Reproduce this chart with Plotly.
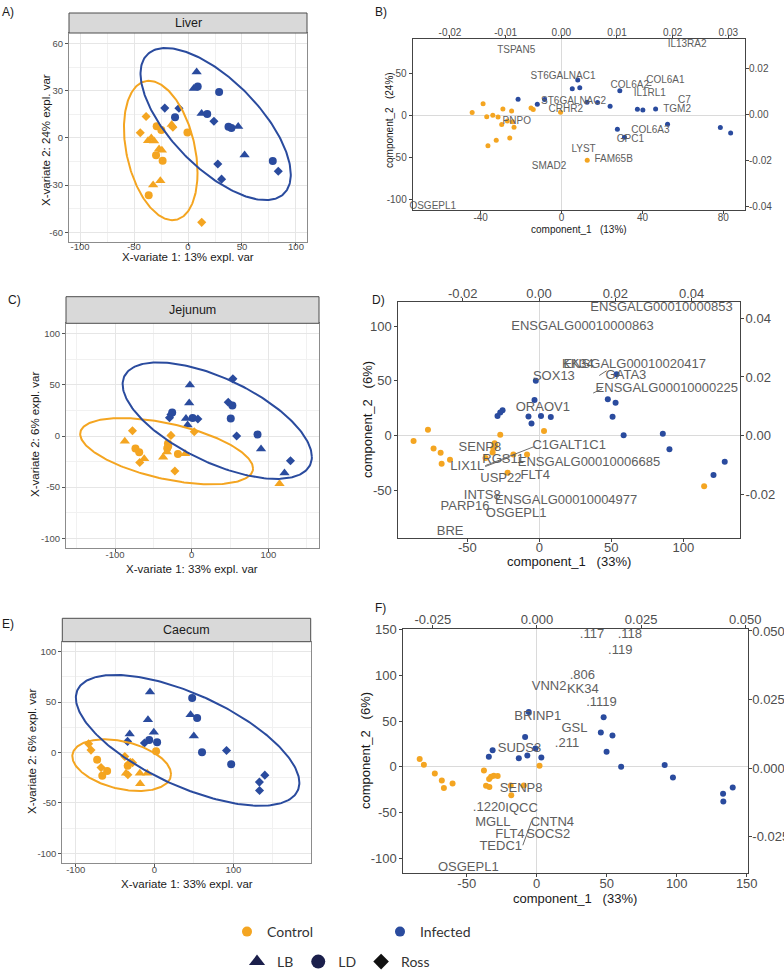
import numpy as np
import plotly.graph_objects as go

FIG_W, FIG_H = 784, 970
ORANGE = "#F4A521"
BLUE = "#2A4B9E"
FONT = "Liberation Sans, Arial, sans-serif"
LEG_FONT = "Lato, sans-serif"

# ------------------------------------------------------------------ data
# Liver sPLS-DA scores (panels A and B)
liver_ctrl_x = [-44.2, -38.8, -37.0, -34.0, -31.4, -29.0, -24.7, -29.6, -26.8, -24.2, -23.5, -15.1, -14.0, -0.5, -25.6, -32.3, -36.4, 12.7]
liver_ctrl_y = [3.3, 13.7, -1.8, 0.0, -2.0, 7.4, 5.0, -11.0, -7.0, -7.8, -14.5, 8.6, 6.8, 3.5, -27.3, -30.0, -36.5, -53.7]
liver_ctrl_breed = ["Ross", "Ross", "LB", "LB", "LB", "LD", "LD", "LD", "LB", "LB", "LD", "LB", "Ross", "LD", "LB", "LB", "LD", "Ross"]
liver_inf_x = [8.0, 5.3, 9.0, 28.8, -21.5, -8.4, -12.0, 12.6, 17.8, 24.0, 37.5, 40.2, 46.5, 52.4, 27.6, 31.1, 78.5, 83.6]
liver_inf_y = [42.0, 31.5, 32.8, 29.2, 19.0, 18.9, 13.2, 15.5, 15.2, 10.6, 7.1, 6.3, 7.3, -10.9, -16.6, -26.2, -14.6, -21.2]
liver_inf_breed = ["LB", "LB", "LD", "LD", "Ross", "Ross", "LD", "LB", "LD", "Ross", "LD", "LD", "LB", "LB", "Ross", "Ross", "LD", "Ross"]

# Jejunum scores (panels C and D)
jej_ctrl_x = [-87.3, -77.3, -73.4, -68.5, -67.8, -62.0, -31.0, -30.6, -31.9, -32.4, -37.3, -27.1, -18.0, -8.5, 3.3, -22.0, 114.5]
jej_ctrl_y = [-5.1, 5.2, -12.1, -15.8, -25.9, -22.2, -7.3, -9.8, -11.9, -15.6, -20.7, 0.6, -17.6, -17.4, 4.1, -34.2, -46.6]
jej_ctrl_breed = ["LB", "Ross", "LD", "LD", "Ross", "LB", "LD", "LD", "LD", "LB", "LB", "Ross", "LD", "LB", "Ross", "Ross", "LB"]
jej_inf_x = [53.7, -2.4, -3.3, 47.6, 53.0, -25.5, -27.1, -29.0, -7.5, 1.2, 8.0, -5.4, 50.9, 58.6, 85.8, 90.4, 128.8, 121.0]
jej_inf_y = [55.9, 49.9, 32.3, 33.0, 29.8, 23.0, 21.0, 17.8, 17.2, 17.7, 16.7, 10.8, 17.0, 0.0, 1.4, -12.6, -24.2, -36.2]
jej_inf_breed = ["Ross", "LB", "LB", "Ross", "LD", "LD", "Ross", "Ross", "LB", "LD", "Ross", "LB", "LD", "Ross", "LD", "LB", "Ross", "LB"]

# Caecum scores (panels E and F)
cae_ctrl_x = [-83.6, -80.6, -72.8, -67.8, -66.3, -60.1, -37.7, -34.0, -32.6, -30.7, -27.9, -36.2, -33.8, -18.6, -9.2, -18.2, 2.0]
cae_ctrl_y = [8.6, 2.4, -7.2, -15.0, -23.0, -18.3, -4.0, -13.2, -10.9, -9.8, -10.1, -20.7, -22.1, -20.5, -20.5, -31.0, 1.3]
cae_ctrl_breed = ["Ross", "Ross", "LD", "Ross", "LD", "LD", "Ross", "LD", "LB", "Ross", "Ross", "LB", "Ross", "LB", "LB", "LB", "LD"]
cae_inf_x = [-5.7, 47.8, 45.8, 54.1, -8.3, -0.9, -31.5, -34.2, -6.7, -12.8, 3.3, 49.9, 60.3, 91.4, 97.3, 140.0, 133.1, 133.3]
cae_inf_y = [60.0, 54.2, 37.6, 34.2, 32.6, 20.0, 18.3, 11.0, 12.5, 9.4, 10.3, 16.5, 0.2, 2.0, -11.7, -22.5, -29.4, -37.8]
cae_inf_breed = ["LB", "LD", "LB", "LD", "LB", "LB", "LB", "Ross", "LD", "Ross", "LD", "LB", "LD", "Ross", "LD", "Ross", "Ross", "Ross"]

# Variable loadings labels (top / right axes)
liver_genes = ["TSPAN5", "IL13RA2", "ST6GALNAC1", "COL6A1", "COL6A2", "IL1RL1", "C7", "TGM2", "ST6GALNAC2",
               "CRHR2", "PNPO", "COL6A3", "GPC1", "LYST", "FAM65B", "SMAD2", "OSGEPL1"]
liver_load_1 = [-0.0081, 0.0226, 0.0003, 0.0187, 0.0123, 0.0159, 0.0221, 0.0208, 0.0022,
                0.0008, -0.0080, 0.0160, 0.0124, 0.0040, 0.0094, -0.0022, -0.0231]
liver_load_2 = [0.0279, 0.0308, 0.0169, 0.0151, 0.0128, 0.0093, 0.0061, 0.0025, 0.0060,
                0.0022, -0.0028, -0.0068, -0.0105, -0.0151, -0.0196, -0.0225, -0.0400]
liver_seg_x = [0.0153, 0.0162]
liver_seg_y = [0.0128, 0.0128]

jej_genes = ["ENSGALG00010000853", "ENSGALG00010000863", "KK34", "ENSGALG00010020417", "GATA3",
             "ENSGALG00010000225", "SOX13", "ORAOV1", "C1GALT1C1", "SENP8", "RGS11", "LIX1L",
             "ENSGALG00010006685", "USP22", "FLT4", "INTS8", "ENSGALG00010004977", "PARP16", "OSGEPL1", "BRE"]
jej_load_1 = [0.0321, 0.0114, 0.0102, 0.0251, 0.0228, 0.0335, 0.0039, 0.0010, 0.0079, -0.0155, -0.0094,
              -0.0188, 0.0131, -0.0100, -0.0010, -0.0149, 0.0071, -0.0194, -0.0060, -0.0233]
jej_load_2 = [0.0435, 0.0372, 0.0241, 0.0241, 0.0203, 0.0160, 0.0199, 0.0094, -0.0035, -0.0043, -0.0083,
              -0.0106, -0.0094, -0.0146, -0.0137, -0.0206, -0.0223, -0.0245, -0.0266, -0.0330]
jej_seg_x = [0.0158, 0.0177, None, 0.0142, 0.0165, None, -0.0141, -0.0013, None, -0.0141, -0.0077]
jej_seg_y = [0.0205, 0.0221, None, 0.0145, 0.0159, None, -0.0103, -0.0038, None, -0.0106, -0.0074]

cae_genes = [".117", ".118", ".119", ".806", "VNN2", "KK34", ".1119", "BRINP1", "GSL", ".211", "SUDS3",
             "SENP8", ".1220", "IQCC", "MGLL", "CNTN4", "FLT4", "SOCS2", "TEDC1", "OSGEPL1"]
cae_load_1 = [0.0132, 0.0223, 0.0200, 0.0109, 0.0029, 0.0110, 0.0155, 0.0002, 0.0090, 0.0072, -0.0042,
              -0.0038, -0.0115, -0.0037, -0.0106, 0.0037, -0.0065, 0.0027, -0.0087, -0.0165]
cae_load_2 = [0.0485, 0.0485, 0.0429, 0.0337, 0.0295, 0.0284, 0.0240, 0.0186, 0.0143, 0.0090, 0.0069,
              -0.0074, -0.0144, -0.0148, -0.0200, -0.0199, -0.0243, -0.0243, -0.0286, -0.0363]
cae_seg_x = [-0.0034, -0.0013]
cae_seg_y = [-0.0281, -0.0193]

SYMBOL = {"LB": "triangle-up", "LD": "circle", "Ross": "diamond"}
SIZE = {"LB": 9, "LD": 8, "Ross": 7}

# ------------------------------------------------------------------ helpers
def fx(p):
    return p / FIG_W

def fy(p):
    return 1 - p / FIG_H

def ellipse(xs, ys, n=240):
    xs = np.asarray(xs, float)
    ys = np.asarray(ys, float)
    k = np.sqrt(-2 * np.log(0.05))
    L = np.linalg.cholesky(np.cov(xs, ys))
    t = np.linspace(0, 2 * np.pi, n)
    pts = k * (L @ np.vstack([np.cos(t), np.sin(t)]))
    return xs.mean() + pts[0], ys.mean() + pts[1]

def fmt(v, d=0):
    s = f"{v:.{d}f}"
    if s.startswith("-") and float(s) == 0:
        s = s[1:]
    return s

fig = go.Figure()

def score_panel(ax, ctrl, inf):
    xa, ya = ("x" + ax, "y" + ax) if ax else ("x", "y")
    for (xs, ys, br), col in ((ctrl, ORANGE), (inf, BLUE)):
        fig.add_trace(go.Scatter(x=xs, y=ys, mode="markers", xaxis=xa, yaxis=ya, showlegend=False,
                                 marker=dict(color=col, symbol=[SYMBOL[b] for b in br], opacity=1,
                                             size=[SIZE[b] for b in br], line=dict(width=0)),
                                 hoverinfo="skip"))
    for (xs, ys, br), col in ((ctrl, ORANGE), (inf, BLUE)):
        ex, ey = ellipse(xs, ys)
        fig.add_trace(go.Scatter(x=ex, y=ey, mode="lines", xaxis=xa, yaxis=ya, showlegend=False,
                                 line=dict(color=col, width=2), hoverinfo="skip"))

def loading_panel(ax, ax2, ctrl, inf, genes, l1, l2, sx, sy, dot, lab):
    for (xs, ys), col in ((ctrl, ORANGE), (inf, BLUE)):
        fig.add_trace(go.Scatter(x=xs, y=ys, mode="markers", xaxis="x" + ax, yaxis="y" + ax,
                                 showlegend=False, marker=dict(color=col, size=dot), hoverinfo="skip"))
    fig.add_trace(go.Scatter(x=sx, y=sy, mode="lines", xaxis="x" + ax2, yaxis="y" + ax2, showlegend=False,
                             line=dict(color="#6b6b6b", width=1), hoverinfo="skip"))
    fig.add_trace(go.Scatter(x=l1, y=l2, text=genes, mode="text", xaxis="x" + ax2, yaxis="y" + ax2,
                             showlegend=False, cliponaxis=False, hoverinfo="skip",
                             textfont=dict(family=FONT, size=lab, color="#5e5e5e")))

score_panel("", (liver_ctrl_x, liver_ctrl_y, liver_ctrl_breed), (liver_inf_x, liver_inf_y, liver_inf_breed))
loading_panel("2", "3", (liver_ctrl_x, liver_ctrl_y), (liver_inf_x, liver_inf_y),
              liver_genes, liver_load_1, liver_load_2, liver_seg_x, liver_seg_y, 5, 10)
score_panel("4", (jej_ctrl_x, jej_ctrl_y, jej_ctrl_breed), (jej_inf_x, jej_inf_y, jej_inf_breed))
loading_panel("5", "6", (jej_ctrl_x, jej_ctrl_y), (jej_inf_x, jej_inf_y),
              jej_genes, jej_load_1, jej_load_2, jej_seg_x, jej_seg_y, 6, 13)
score_panel("7", (cae_ctrl_x, cae_ctrl_y, cae_ctrl_breed), (cae_inf_x, cae_inf_y, cae_inf_breed))
loading_panel("8", "9", (cae_ctrl_x, cae_ctrl_y), (cae_inf_x, cae_inf_y),
              cae_genes, cae_load_1, cae_load_2, cae_seg_x, cae_seg_y, 6, 13)

# legend entries
for name, col, sym, size, leg in (("Control", ORANGE, "circle", 10, "legend"),
                                   ("Infected", BLUE, "circle", 10, "legend"),
                                   ("LB", "#1b1f4b", "triangle-up", 14, "legend2"),
                                   ("LD", "#1b1f4b", "circle", 14, "legend2"),
                                   ("Ross", "#111111", "diamond", 12, "legend2")):
    fig.add_trace(go.Scatter(x=[None], y=[None], mode="markers", name=name, legend=leg,
                             marker=dict(color=col, symbol=sym, size=size)))

# ------------------------------------------------------------------ axes
GRID = "#e6e6e6"
MINOR = "#f1f1f1"

def score_axes(dx, dy, xr, yr, xt, yt, xm, ym, xa, ya, sb):
    common = dict(showgrid=True, gridcolor=GRID, gridwidth=1, zeroline=False, showline=True, mirror=True,
                  linecolor="#8c8c8c", linewidth=1, ticks="outside", ticklen=3, tickcolor="#555555",
                  tickfont=dict(family=FONT, size=9.5, color="#4d4d4d"), fixedrange=True, automargin=False)
    xaxis = dict(common, domain=[fx(dx[0]), fx(dx[1])], range=xr, tickmode="array", tickvals=xt,
                 ticktext=[fmt(v) for v in xt], anchor=ya, ticklabelstandoff=sb,
                 minor=dict(tick0=0, dtick=xm, showgrid=True, gridcolor=MINOR, gridwidth=0.6))
    yaxis = dict(common, domain=[fy(dy[1]), fy(dy[0])], range=yr, tickmode="array", tickvals=yt,
                 ticktext=[fmt(v) for v in yt], anchor=xa,
                 minor=dict(tick0=0, dtick=ym, showgrid=True, gridcolor=MINOR, gridwidth=0.6))
    return xaxis, yaxis

def load_axes(dx, dy, xr, yr, xt, yt, txr, tyr, txt, tyt, dec, fs, xa, ya, xa2, ya2, sb, st, sr):
    common = dict(showgrid=False, showline=True, linecolor="#444444", linewidth=1, ticks="outside",
                  ticklen=3, tickcolor="#444444", tickfont=dict(family=FONT, size=fs, color="#4d4d4d"),
                  fixedrange=True, automargin=False)
    xaxis = dict(common, domain=[fx(dx[0]), fx(dx[1])], range=xr, tickmode="array", tickvals=xt,
                 ticktext=[fmt(v) for v in xt], anchor=ya, zeroline=True, zerolinecolor="#dadada",
                 zerolinewidth=1, ticklabelstandoff=sb)
    yaxis = dict(common, domain=[fy(dy[1]), fy(dy[0])], range=yr, tickmode="array", tickvals=yt,
                 ticktext=[fmt(v) for v in yt], anchor=xa, zeroline=True, zerolinecolor="#dadada",
                 zerolinewidth=1)
    xaxis2 = dict(common, overlaying=xa, side="top", anchor=ya2, range=txr, tickmode="array",
                  tickvals=txt, ticktext=[fmt(v, dec) for v in txt], zeroline=False, ticklabelstandoff=st)
    yaxis2 = dict(common, overlaying=ya, side="right", anchor=xa2, range=tyr, tickmode="array",
                  tickvals=tyt, ticktext=[fmt(v, dec) for v in tyt], zeroline=False, ticklabelstandoff=sr)
    return xaxis, yaxis, xaxis2, yaxis2

axA = score_axes((69, 307), (33, 242), [-110.2, 110.2], [-66.2, 66.8], [-100, -50, 0, 50, 100],
                 [-60, -30, 0, 30, 60], 25, 15, "x", "y", -7)
axC = score_axes((66, 319), (323.3, 547.7), [-164, 166], [-109.2, 110.2], [-100, 0, 100],
                 [-100, -50, 0, 50, 100], 50, 25, "x4", "y4", -5)
axE = score_axes((62.3, 310.7), (641.7, 863.3), [-117, 198.2], [-110, 110], [-100, 0, 100],
                 [-100, -50, 0, 50, 100], 50, 25, "x7", "y7", -6)
axB = load_axes((412.7, 745), (39.3, 210), [-73.6, 90.7], [-113.1, 90.6], [-40, 0, 40, 80],
                [-100, -50, 0, 50], [-0.0267, 0.033], [-0.0414, 0.0329],
                [-0.02, -0.01, 0, 0.01, 0.02, 0.03], [-0.04, -0.02, 0, 0.02], 2, 10,
                "x2", "y2", "x3", "y3", -5, -5, -2)
axD = load_axes((398.3, 740), (302.3, 537.7), [-97.9, 139.4], [-93.6, 121.7], [-50, 0, 50, 100],
                [-50, 0, 50, 100], [-0.0369, 0.0527], [-0.0349, 0.0455],
                [-0.02, 0, 0.02, 0.04], [-0.02, 0, 0.02, 0.04], 2, 13,
                "x5", "y5", "x6", "y6", -5, -5, -1)
axF = load_axes((403.3, 747.7), (629.3, 872.7), [-95.3, 150.7], [-115.7, 150.4], [-50, 0, 50, 100, 150],
                [-100, -50, 0, 50, 100, 150], [-0.0321, 0.0506], [-0.0381, 0.0506],
                [-0.025, 0, 0.025, 0.05], [-0.025, 0, 0.025, 0.05], 3, 13,
                "x8", "y8", "x9", "y9", -4, -4, -2)

fig.update_layout(
    width=FIG_W, height=FIG_H, margin=dict(l=0, r=0, t=0, b=0, autoexpand=False), autosize=False,
    paper_bgcolor="white", plot_bgcolor="white",
    xaxis=axA[0], yaxis=axA[1],
    xaxis2=axB[0], yaxis2=axB[1], xaxis3=axB[2], yaxis3=axB[3],
    xaxis4=axC[0], yaxis4=axC[1],
    xaxis5=axD[0], yaxis5=axD[1], xaxis6=axD[2], yaxis6=axD[3],
    xaxis7=axE[0], yaxis7=axE[1],
    xaxis8=axF[0], yaxis8=axF[1], xaxis9=axF[2], yaxis9=axF[3],
    legend=dict(orientation="h", x=fx(227), xanchor="left", y=fy(932), yanchor="middle",
                entrywidth=108, entrywidthmode="pixels", font=dict(family=LEG_FONT, size=14, color="#333333"),
                bgcolor="rgba(0,0,0,0)", itemclick=False, itemdoubleclick=False),
    legend2=dict(orientation="h", x=fx(237), xanchor="left", y=fy(962), yanchor="middle",
                 font=dict(family=LEG_FONT, size=14, color="#333333"),
                 bgcolor="rgba(0,0,0,0)", itemclick=False, itemdoubleclick=False),
)

# strips
for (x0, x1, y0, y1, name) in ((69, 307, 13, 33, "Liver"), (66, 319, 296.7, 323.3, "Jejunum"),
                               (62.3, 310.7, 618.3, 641.7, "Caecum")):
    fig.add_shape(type="rect", xref="paper", yref="paper", x0=fx(x0), x1=fx(x1), y0=fy(y1), y1=fy(y0),
                  fillcolor="#d9d9d9", line=dict(color="#4d4d4d", width=1), layer="above")
    fig.add_annotation(x=fx((x0 + x1) / 2), y=fy((y0 + y1) / 2), xref="paper", yref="paper", text=name,
                       showarrow=False, font=dict(family=FONT, size=12.5, color="#1a1a1a"),
                       xanchor="center", yanchor="middle")

def label(x, y, s, size, angle=0, color="#1a1a1a"):
    fig.add_annotation(x=fx(x), y=fy(y), xref="paper", yref="paper", text=s, showarrow=False,
                       textangle=angle, font=dict(family=FONT, size=size, color=color),
                       xanchor="center", yanchor="middle")

# panel letters
for s, x, y in (("A)", 8, 12), ("B)", 381, 12), ("C)", 14, 300), ("D)", 378, 300),
                ("E)", 8, 624), ("F)", 380, 608)):
    label(x, y, s, 12)

# axis titles
label(188, 257, "X-variate 1: 13% expl. var", 11.5)
label(46, 140, "X-variate 2: 24% expl. var", 11.5, -90)
label(192, 568.5, "X-variate 1: 33% expl. var", 11.5)
label(35, 435, "X-variate 2: 6% expl. var", 11.5, -90)
label(186.5, 883.5, "X-variate 1: 33% expl. var", 11.5)
label(32, 752, "X-variate 2: 6% expl. var", 11.5, -90)
label(579, 229, "component_1&nbsp;&nbsp;&nbsp;(13%)", 10)
label(389, 120, "component_2&nbsp;&nbsp;&nbsp;(24%)", 10, -90)
label(569, 561, "component_1&nbsp;&nbsp;&nbsp;(33%)", 13)
label(367, 420, "component_2&nbsp;&nbsp;&nbsp;(6%)", 13, -90)
label(575, 898, "component_1&nbsp;&nbsp;&nbsp;(33%)", 13)
label(365, 751, "component_2&nbsp;&nbsp;&nbsp;(6%)", 13, -90)

fig.write_html("out.html")
